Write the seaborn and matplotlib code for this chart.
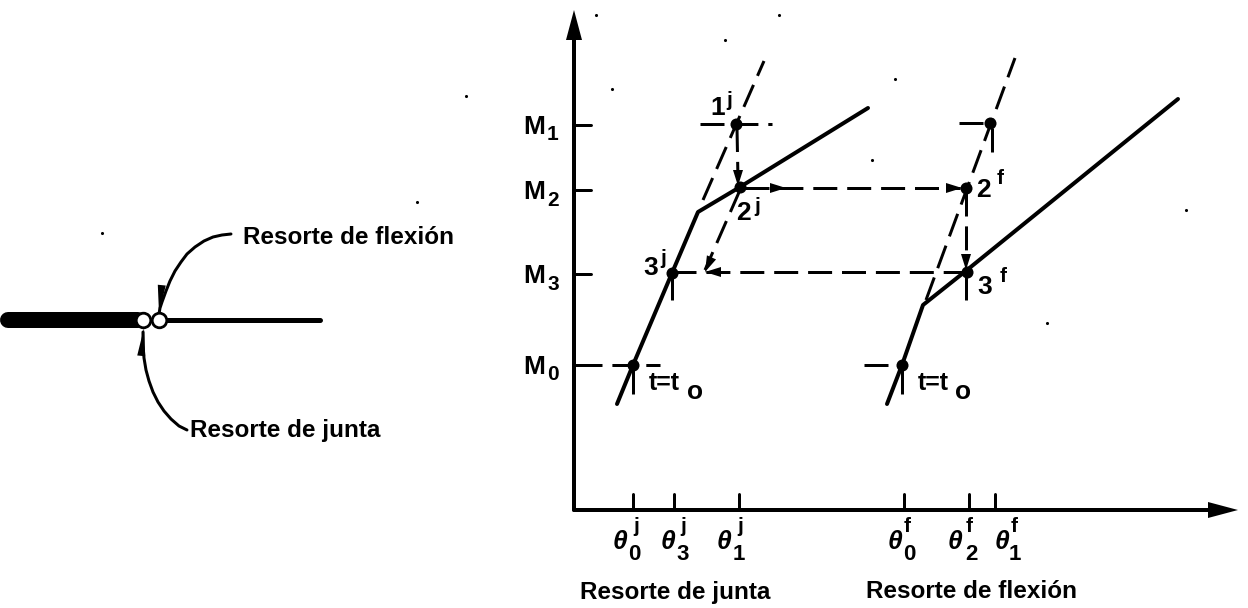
import matplotlib
matplotlib.use("Agg")
import matplotlib.pyplot as plt
import numpy as np
import seaborn as sns

y_axis_x, y_axis_y = [574, 574], [510, 30]
x_axis_x, x_axis_y = [574, 1225], [510, 510]

moment_labels = ["M", "M", "M", "M"]
moment_subs = ["1", "2", "3", "0"]
moment_y = [125, 190, 274, 365]

tick_x = [633, 674, 739, 904, 969, 995]
theta_x = [620, 668, 724, 895, 955, 1002]
theta_sub_x = [634, 683, 739, 909, 971, 1015]
theta_sup_x = [636, 683, 740, 907, 969, 1014]
theta_subs = ["0", "3", "1", "0", "2", "1"]
theta_sups = ["j", "j", "j", "f", "f", "f"]

# solid spring curves
joint_x = [617, 633, 672, 698, 740, 868]
joint_y = [404, 365, 273, 212, 187, 108]
flex_x = [887, 902, 923, 967, 1178]
flex_y = [404, 365, 305, 270, 99]

# left sketch
bar_x = [8, 138]
bar_y = [320, 320]
beam_x = [165, 320]
beam_y = [320, 320]
hinge_x = [143, 159]
hinge_y = [320, 320]
flex_curve_x = [231, 222, 213, 204, 195, 187, 181, 175, 170, 166, 162, 160, 159]
flex_curve_y = [234, 235, 237, 241, 247, 254, 262, 271, 281, 291, 302, 308, 314]
joint_curve_x = [187, 179, 171, 164, 158, 153, 149, 146, 144, 143, 143]
joint_curve_y = [430, 426, 419, 411, 402, 392, 381, 370, 358, 345, 332]

# dashed construction lines
dashed_lines = [
    ([703, 764], [200, 61]),
    ([737, 738], [128, 180]),
    ([740, 705], [190, 270]),
    ([700, 772], [124, 124]),
    ([745, 960], [188, 188]),
    ([672, 962], [272, 272]),
    ([926, 1015], [300, 58]),
    ([959, 988], [123, 123]),
    ([992, 992], [128, 158]),
    ([966, 966], [192, 262]),
    ([966, 966], [276, 303]),
    ([578, 660], [365, 365]),
    ([864, 900], [365, 365]),
    ([633, 633], [370, 400]),
    ([902, 902], [370, 402]),
    ([672, 672], [278, 300]),
]

dot_x = [736, 740, 966, 967, 672, 633, 902, 990]
dot_y = [124, 187, 188, 272, 273, 365, 365, 123]

# arrow heads: tip x, tip y, direction x, direction y, length, half width
heads = [
    (574, 10, 0, -1, 30, 8),
    (1238, 510, 1, 0, 30, 8),
    (786, 188, 1, 0, 16, 5),
    (962, 188, 1, 0, 16, 5),
    (738, 186, 0, 1, 16, 5),
    (705, 272, -1, 0, 16, 5),
    (705, 272, -0.4, 0.9, 16, 5),
    (966, 270, 0, 1, 16, 5),
    (159, 313, -0.1, 1, 28, 4),
    (144, 328, 0.1, -1, 28, 4),
]

specks_x = [779, 596, 725, 872, 895, 1186, 102, 417, 1047, 612, 466]
specks_y = [15, 15, 40, 160, 79, 210, 233, 202, 323, 89, 96]

point_labels = [
    ("1", 718, 108), ("j", 729, 101),
    ("2", 743, 213), ("j", 757, 207),
    ("3", 651, 268), ("j", 663, 259),
    ("2", 983, 190), ("f", 1000, 178),
    ("3", 985, 287), ("f", 1003, 277),
]
t_label_x = [664, 933]
t_sub_x = [695, 963]
captions = [
    ("Resorte de flexión", 243, 237),
    ("Resorte de junta", 190, 430),
    ("Resorte de junta", 580, 592),
    ("Resorte de flexión", 866, 592),
]

sns.set_theme(style="white")
plt.rcParams["font.family"] = ["Liberation Sans", "DejaVu Sans"]
plt.rcParams["text.color"] = "black"

fig, ax = plt.subplots(figsize=(12.48, 6.08), dpi=100)
fig.subplots_adjust(0, 0, 1, 1)
ax.set_xlim(0, 1248)
ax.set_ylim(608, 0)
ax.axis("off")


def line(x, y, width, **kws):
    sns.lineplot(x=x, y=y, ax=ax, color="black", linewidth=width * 0.72,
                 estimator=None, sort=False, legend=False, **kws)


def label(s, x, y, size=17, **kws):
    ax.text(x, y, s, fontsize=size, fontweight="bold", ha="center", va="center", **kws)


# axes and ticks
line(y_axis_x, y_axis_y, 4)
line(x_axis_x, x_axis_y, 4)
for m, sub, y in zip(moment_labels, moment_subs, moment_y):
    line([574, 591], [y, y], 3)
    label(m, 534, y + 2, size=19)
    label(sub, 553, y + 10, size=15)
for x, tx, bx, ux, sub, sup in zip(tick_x, theta_x, theta_sub_x, theta_sup_x, theta_subs, theta_sups):
    line([x, x], [494, 510], 3)
    label("θ", tx, 542, size=19, style="italic")
    label(sub, bx, 554, size=16)
    label(sup, ux, 526, size=15)

# springs
line(joint_x, joint_y, 4)
line(flex_x, flex_y, 4)
for x, y in dashed_lines:
    line(x, y, 3, linestyle=(0, (8, 3.3)))
sns.scatterplot(x=dot_x, y=dot_y, ax=ax, color="black", s=75, linewidth=0, legend=False)

for tx, ty, dx, dy, length, half in heads:
    n = np.hypot(dx, dy)
    dx, dy = dx / n, dy / n
    bx, by = tx - dx * length, ty - dy * length
    ax.fill([tx, bx - dy * half, bx + dy * half], [ty, by + dx * half, by - dx * half],
            color="black", linewidth=0, zorder=4)

# left sketch
line(bar_x, bar_y, 16)
line(beam_x, beam_y, 5)
line(flex_curve_x, flex_curve_y, 3)
line(joint_curve_x, joint_curve_y, 3)
sns.scatterplot(x=hinge_x, y=hinge_y, ax=ax, color="white", edgecolor="black",
                s=110, linewidth=2, legend=False, zorder=5)
sns.scatterplot(x=specks_x, y=specks_y, ax=ax, color="black", s=5, linewidth=0, legend=False)

# texts
for s, x, y in point_labels:
    label(s, x, y, size=15 if s in "jf" else 19)
for x, sub in zip(t_label_x, t_sub_x):
    label("t=t", x, 383, size=18)
    label("o", sub, 392, size=19)
for s, x, y in captions:
    ax.text(x, y, s, fontsize=17.5, fontweight="bold", ha="left", va="center")

fig.savefig("out.png", dpi=100, facecolor="white")
